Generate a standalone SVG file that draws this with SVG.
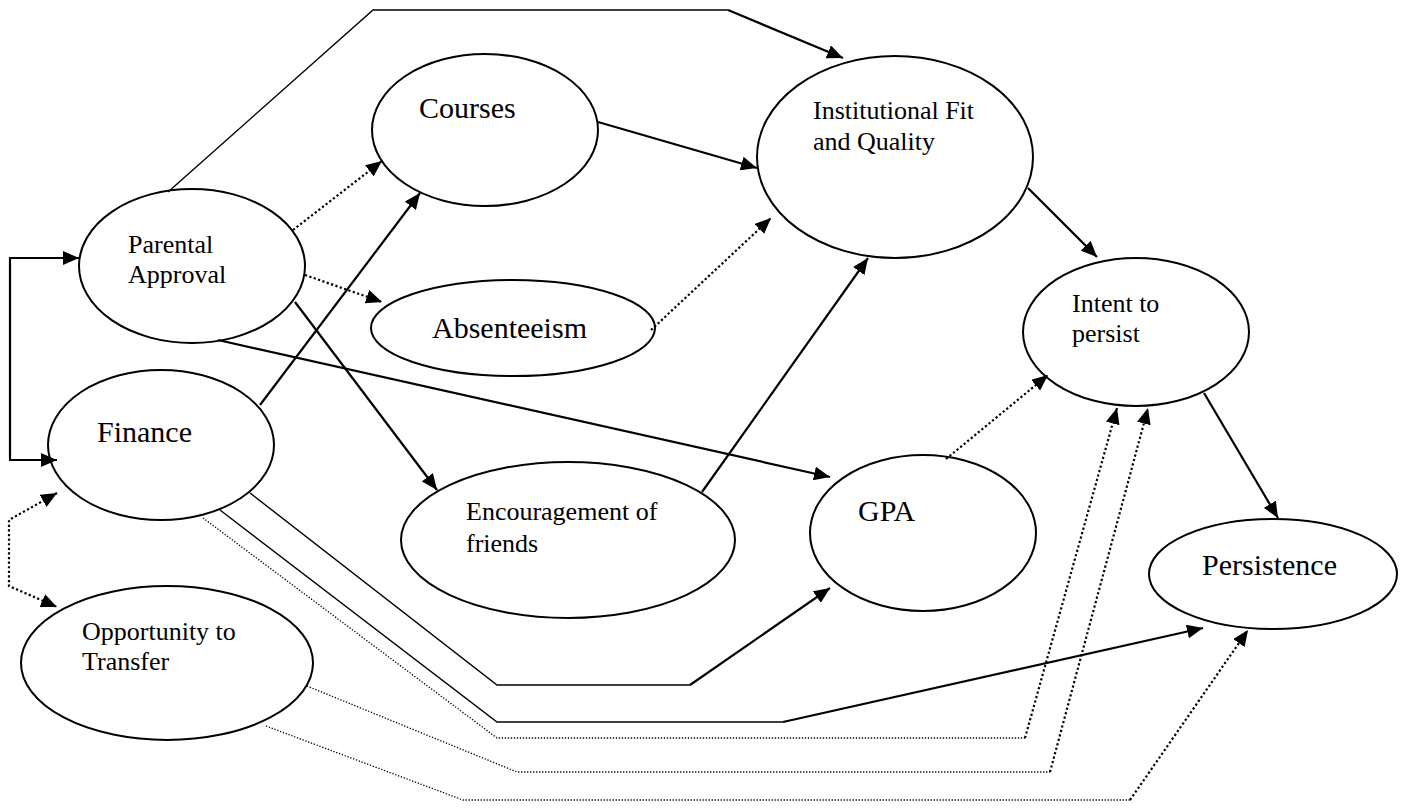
<svg xmlns="http://www.w3.org/2000/svg" width="1406" height="811" viewBox="0 0 1406 811">
  <style>
    .node ellipse { fill: #fff; stroke: #000; stroke-width: 2; }
    .node text { font-family: "Liberation Serif", "Times New Roman", serif; fill: #000; }
    .big { font-size: 30px; }
    .small { font-size: 26px; }
    .solid { fill: none; stroke: #000; stroke-width: 2.2; }
    .thin { fill: none; stroke: #000; stroke-width: 1.4; }
    .dot { fill: none; stroke: #000; stroke-width: 2.2; stroke-dasharray: 2.2 2.4; }
    .dotthin { fill: none; stroke: #000; stroke-width: 1.3; stroke-dasharray: 1.3 1.7; }
  </style>
  <defs>
    <marker id="ah" markerWidth="16" markerHeight="14" refX="16" refY="7" orient="auto" markerUnits="userSpaceOnUse">
      <path d="M0,0 L16,7 L0,14 z" fill="#000"/>
    </marker>
    <marker id="ahs" markerWidth="16" markerHeight="14" refX="16" refY="7" orient="auto-start-reverse" markerUnits="userSpaceOnUse">
      <path d="M0,0 L16,7 L0,14 z" fill="#000"/>
    </marker>
  </defs>

  <rect width="1406" height="811" fill="#fff"/>

  <g id="parental" class="node">
    <ellipse cx="192" cy="266" rx="113" ry="77"/>
    <text class="small" x="128" y="253">Parental</text>
    <text class="small" x="128" y="283">Approval</text>
  </g>
  <g id="finance" class="node">
    <ellipse cx="161" cy="445" rx="113" ry="75"/>
    <text class="big" x="97" y="442">Finance</text>
  </g>
  <g id="transfer" class="node">
    <ellipse cx="167" cy="663" rx="146" ry="77"/>
    <text class="small" x="82" y="640">Opportunity to</text>
    <text class="small" x="82" y="670">Transfer</text>
  </g>
  <g id="courses" class="node">
    <ellipse cx="485" cy="130" rx="113" ry="76"/>
    <text class="big" x="419" y="118">Courses</text>
  </g>
  <g id="absenteeism" class="node">
    <ellipse cx="513" cy="328" rx="142" ry="48"/>
    <text class="big" x="432" y="338">Absenteeism</text>
  </g>
  <g id="friends" class="node">
    <ellipse cx="568" cy="540" rx="167" ry="78"/>
    <text class="small" x="466" y="520">Encouragement of</text>
    <text class="small" x="466" y="552">friends</text>
  </g>
  <g id="fit" class="node">
    <ellipse cx="895" cy="157" rx="138" ry="101"/>
    <text class="small" x="813" y="119">Institutional Fit</text>
    <text class="small" x="813" y="150">and Quality</text>
  </g>
  <g id="gpa" class="node">
    <ellipse cx="923" cy="533" rx="113" ry="78"/>
    <text class="big" x="858" y="521">GPA</text>
  </g>
  <g id="intent" class="node">
    <ellipse cx="1136" cy="332" rx="113" ry="74"/>
    <text class="small" x="1072" y="312">Intent to</text>
    <text class="small" x="1072" y="342">persist</text>
  </g>
  <g id="persistence" class="node">
    <ellipse cx="1273" cy="574" rx="124" ry="55"/>
    <text class="big" x="1202" y="575">Persistence</text>
  </g>

  <g id="connectors">
    <!-- left bracket: shared source into Parental Approval and Finance -->
    <polyline class="solid" points="10,258 10,460"/>
    <line class="solid" x1="9" y1="258" x2="79" y2="258" marker-end="url(#ah)"/>
    <line class="solid" x1="9" y1="460" x2="57" y2="460" marker-end="url(#ah)"/>

    <!-- Finance <-> Opportunity to Transfer -->
    <polyline class="dot" points="57,493 9,520 9,586 57,607" marker-start="url(#ahs)" marker-end="url(#ah)"/>

    <!-- Parental Approval over the top to Institutional Fit -->
    <polyline class="thin" points="168,192 373,10 728,10"/>
    <line class="solid" x1="728" y1="10" x2="843" y2="58" marker-end="url(#ah)"/>

    <line class="dot" x1="293" y1="230" x2="382" y2="161" marker-end="url(#ah)"/>
    <line class="dot" x1="305" y1="275" x2="382" y2="302" marker-end="url(#ah)"/>
    <line class="solid" x1="295" y1="302" x2="437" y2="490" marker-end="url(#ah)"/>
    <line class="solid" x1="218" y1="340" x2="830" y2="477" marker-end="url(#ah)"/>
    <line class="solid" x1="260" y1="405" x2="420" y2="193" marker-end="url(#ah)"/>

    <line class="solid" x1="598" y1="122" x2="757" y2="168" marker-end="url(#ah)"/>
    <line class="dot" x1="651" y1="330" x2="771" y2="218" marker-end="url(#ah)"/>
    <line class="solid" x1="702" y1="492" x2="868" y2="258" marker-end="url(#ah)"/>
    <line class="solid" x1="1028" y1="188" x2="1097" y2="257" marker-end="url(#ah)"/>
    <line class="dot" x1="946" y1="459" x2="1048" y2="375" marker-end="url(#ah)"/>
    <line class="solid" x1="1204" y1="393" x2="1278" y2="518" marker-end="url(#ah)"/>

    <!-- Finance routes along the bottom -->
    <polyline class="thin" points="250,493 497,685 690,685"/>
    <line class="solid" x1="690" y1="685" x2="830" y2="588" marker-end="url(#ah)"/>
    <polyline class="thin" points="220,510 497,722 783,722"/>
    <line class="solid" x1="783" y1="722" x2="1203" y2="628" marker-end="url(#ah)"/>
    <polyline class="dotthin" points="203,518 497,738 1025,738"/>
    <line class="dot" x1="1025" y1="738" x2="1117" y2="408" marker-end="url(#ah)"/>

    <!-- Opportunity to Transfer routes along the bottom -->
    <polyline class="dotthin" points="307,686 517,772 1050,772"/>
    <line class="dot" x1="1050" y1="772" x2="1148" y2="408" marker-end="url(#ah)"/>
    <polyline class="dotthin" points="266,726 463,800 1130,800"/>
    <line class="dot" x1="1130" y1="800" x2="1248" y2="630" marker-end="url(#ah)"/>
  </g>
</svg>
